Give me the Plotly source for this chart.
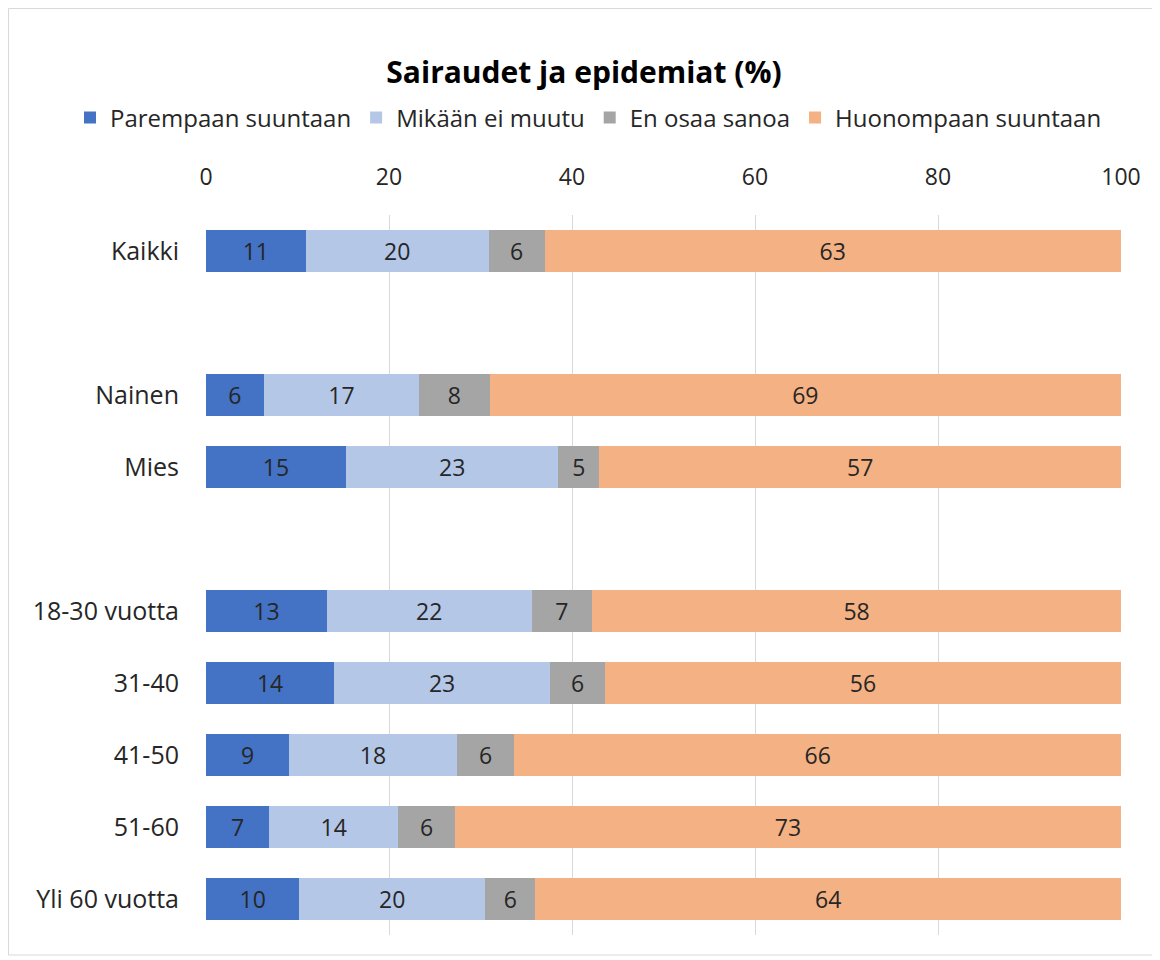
import plotly.graph_objects as go

categories = ["Kaikki", " ", "Nainen", "Mies", "  ", "18-30 vuotta", "31-40", "41-50", "51-60", "Yli 60 vuotta"]
series_names = ["Parempaan suuntaan", "Mikään ei muutu", "En osaa sanoa", "Huonompaan suuntaan"]
parempaan = [10.9, None, 6.3, 15.3, None, 13.2, 14.0, 9.1, 6.9, 10.2]
mikaan = [20.0, None, 17.0, 23.2, None, 22.4, 23.6, 18.3, 14.1, 20.3]
en_osaa = [6.1, None, 7.7, 4.5, None, 6.6, 6.0, 6.3, 6.2, 5.5]
huonompaan = [63.0, None, 69.0, 57.0, None, 57.8, 56.4, 66.3, 72.8, 64.0]
labels = {
    "Parempaan suuntaan": ["11", "", "6", "15", "", "13", "14", "9", "7", "10"],
    "Mikään ei muutu": ["20", "", "17", "23", "", "22", "23", "18", "14", "20"],
    "En osaa sanoa": ["6", "", "8", "5", "", "7", "6", "6", "6", "6"],
    "Huonompaan suuntaan": ["63", "", "69", "57", "", "58", "56", "66", "73", "64"],
}
colors = ["#4472C4", "#B4C7E7", "#A5A5A5", "#F4B183"]
tick_vals = [0, 20, 40, 60, 80, 100]

FONT = "Open Sans, Liberation Sans, sans-serif"
TXT = "#262626"

W, H = 1152, 952
L, R, T, B = 198, 39, 207, 25
PW = W - L - R
PH = H - T - B

fig = go.Figure()
for name, vals, col in zip(series_names, [parempaan, mikaan, en_osaa, huonompaan], colors):
    fig.add_trace(go.Bar(
        y=categories, x=vals, name=name, orientation="h",
        marker=dict(color=col, line=dict(width=0)),
        text=labels[name], textposition="inside", insidetextanchor="middle",
        textfont=dict(family=FONT, size=23, color=TXT),
        constraintext="none",
    ))

fig.update_layout(
    barmode="stack",
    bargap=0.43,
    width=W, height=H,
    paper_bgcolor="white", plot_bgcolor="white",
    margin=dict(l=L, r=R, t=T, b=B, autoexpand=False),
    title=dict(text="<b>Sairaudet ja epidemiat (%)</b>", x=0.5, xanchor="center",
               y=1 - 64 / H, yanchor="middle",
               font=dict(family=FONT, size=30, color="#000000")),
    legend=dict(orientation="h", x=(62 - L) / PW, xanchor="left",
                y=1 + (T - 110) / PH, yanchor="middle",
                font=dict(family=FONT, size=24, color=TXT), traceorder="normal",
                itemwidth=30),
    font=dict(family=FONT, size=24, color=TXT),
    shapes=[dict(type="rect", xref="paper", yref="paper",
                 x0=(0.5 - L) / PW, x1=(W - 5 - L) / PW,
                 y0=-(B - 5) / PH, y1=1 + (T - 0.5) / PH,
                 line=dict(color="#D9D9D9", width=1), layer="below")],
)
fig.update_xaxes(side="top", range=[0, 100], tickvals=tick_vals, showgrid=True,
                 gridcolor="#D9D9D9", gridwidth=1, zeroline=False, showline=False,
                 tickfont=dict(family=FONT, size=23, color=TXT), ticks="", ticklabelstandoff=24)
fig.update_yaxes(categoryorder="array", categoryarray=categories, autorange="reversed",
                 showgrid=False, showline=False, ticks="",
                 tickfont=dict(family=FONT, size=25, color=TXT), ticklabelstandoff=26)

fig.write_html("out.html")
